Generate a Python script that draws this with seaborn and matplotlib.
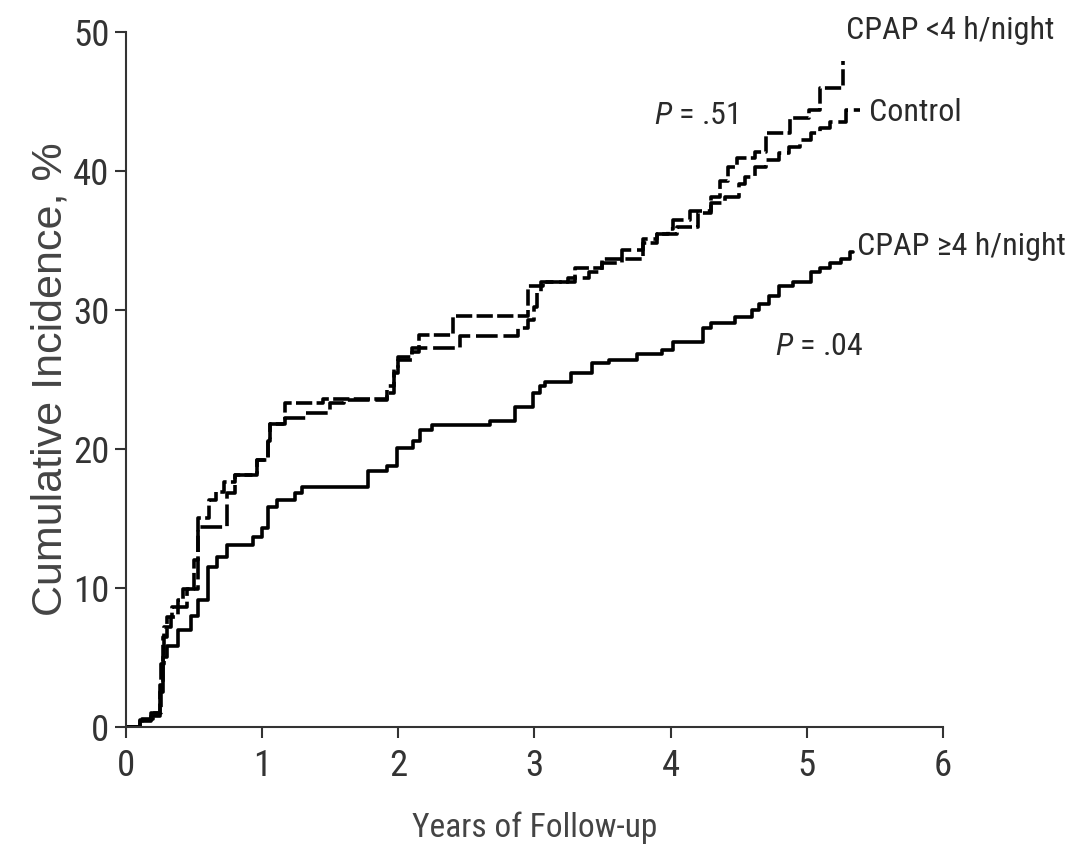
import matplotlib
matplotlib.use('agg')
import numpy as np
import pandas as pd
import matplotlib.pyplot as plt
from matplotlib import font_manager
import seaborn as sns

# step points (years, cumulative incidence %)
t_high = [0, 0.10, 0.18, 0.25, 0.27, 0.30, 0.38, 0.48, 0.53, 0.60,
          0.67, 0.74, 0.93, 1.00, 1.04, 1.11, 1.24, 1.29, 1.78, 1.92,
          1.99, 2.11, 2.16, 2.25, 2.67, 2.86, 2.99, 3.04, 3.08, 3.27,
          3.42, 3.55, 3.75, 3.94, 4.02, 4.24, 4.30, 4.47, 4.60, 4.65,
          4.72, 4.80, 4.90, 5.03, 5.10, 5.17, 5.25, 5.32, 5.34]
y_high = [0, 0.4, 0.8, 2.5, 5.0, 5.8, 7.0, 8.0, 9.1, 11.5,
          12.2, 13.1, 13.7, 14.3, 15.8, 16.3, 16.8, 17.3, 18.4, 18.8,
          20.1, 20.6, 21.4, 21.7, 22.0, 23.0, 24.0, 24.5, 24.8, 25.5,
          26.2, 26.4, 26.8, 27.1, 27.7, 28.7, 29.1, 29.5, 30.0, 30.4,
          31.0, 31.7, 32.0, 32.7, 33.0, 33.4, 33.7, 34.2, 34.2]

t_low = [0, 0.12, 0.20, 0.25, 0.27, 0.30, 0.34, 0.38, 0.42, 0.50,
         0.53, 0.61, 0.66, 0.72, 0.80, 0.96, 1.04, 1.06, 1.17, 1.45,
         1.92, 1.97, 2.00, 2.10, 2.15, 2.40, 2.95, 3.06, 3.30, 3.50,
         3.80, 3.90, 4.05, 4.20, 4.30, 4.36, 4.42, 4.49, 4.62, 4.70,
         4.88, 5.02, 5.10, 5.27]
y_low = [0, 0.6, 1.0, 3.0, 6.5, 7.9, 8.6, 9.1, 9.9, 12.0,
         15.0, 16.3, 16.9, 17.6, 18.1, 19.2, 20.6, 21.8, 23.3, 23.6,
         24.0, 25.5, 26.6, 27.0, 28.2, 29.6, 31.7, 32.0, 33.0, 33.7,
         34.8, 35.5, 36.0, 37.0, 38.1, 39.3, 40.3, 40.9, 41.4, 42.7,
         43.8, 44.4, 46.0, 47.9]

t_ctrl = [0, 0.10, 0.18, 0.26, 0.28, 0.33, 0.38, 0.45, 0.53, 0.74,
          0.80, 0.96, 1.04, 1.06, 1.17, 1.32, 1.50, 1.60, 1.92, 1.97,
          2.00, 2.10, 2.45, 2.88, 2.95, 3.00, 3.02, 3.05, 3.25, 3.40,
          3.50, 3.64, 3.80, 3.90, 3.98, 4.02, 4.14, 4.30, 4.40, 4.50,
          4.55, 4.62, 4.70, 4.80, 4.87, 4.95, 5.03, 5.10, 5.17, 5.29,
          5.39]
y_ctrl = [0, 0.5, 1.0, 4.5, 7.2, 7.9, 8.6, 9.9, 14.4, 16.8,
          18.1, 19.2, 20.6, 21.8, 22.2, 22.6, 23.3, 23.5, 24.5, 25.8,
          26.4, 27.3, 28.1, 28.7, 29.3, 30.2, 31.2, 32.0, 32.3, 32.7,
          33.4, 34.3, 35.1, 35.5, 35.8, 36.5, 37.1, 37.7, 38.1, 39.1,
          39.6, 40.3, 40.8, 41.3, 41.7, 42.2, 42.7, 43.1, 43.5, 44.4,
          44.4]

groups = ['CPAP \u22654 h/night', 'CPAP <4 h/night', 'Control']
p_texts = ['.51', '.04']

df = pd.concat([
    pd.DataFrame({'years': t_high, 'inc': y_high, 'group': groups[0]}),
    pd.DataFrame({'years': t_low, 'inc': y_low, 'group': groups[1]}),
    pd.DataFrame({'years': t_ctrl, 'inc': y_ctrl, 'group': groups[2]}),
])

# condensed face if the box has one, else Arial-metric Liberation Sans
names = {f.name for f in font_manager.fontManager.ttflist}
if 'Roboto Condensed' in names:
    face, k = 'Roboto Condensed', 1.15
else:
    face, k = 'Liberation Sans', 1.0

sns.set_style('ticks')
plt.rcParams['font.family'] = [face, 'DejaVu Sans']
plt.rcParams['mathtext.fontset'] = 'custom'
plt.rcParams['mathtext.it'] = face + ':italic'
plt.rcParams['mathtext.rm'] = face

fig = plt.figure(figsize=(10.79, 8.58), dpi=100)
ax = fig.add_axes([0.1168, 0.1527, 0.757, 0.81])

sns.lineplot(data=df, x='years', y='inc', hue='group', style='group',
             palette={g: 'black' for g in groups},
             dashes={groups[0]: '', groups[1]: (4.5, 1.2), groups[2]: (6, 1.6)},
             estimator=None, sort=False, drawstyle='steps-post',
             linewidth=2.6, legend=False, ax=ax)

ax.set_xlim(0, 6)
ax.set_ylim(0, 50)
ax.set_xticks(range(0, 7))
ax.set_yticks(range(0, 51, 10))
sns.despine(ax=ax)
for s in ['left', 'bottom']:
    ax.spines[s].set_linewidth(1.5)
    ax.spines[s].set_color('#333333')
ax.tick_params(axis='both', length=8, width=1.5, color='#333333',
               labelsize=23 * k, labelcolor='#333333', pad=4)
ax.tick_params(axis='x', pad=7)

ax.set_xlabel('Years of Follow-up', fontsize=21 * k, color='#444444', labelpad=20)
ax.set_ylabel('Cumulative Incidence, %', fontsize=31, color='#444444',
              family=['Liberation Sans', 'DejaVu Sans'], labelpad=2)

tc = '#2a2a2a'
fs = 20 * k
ax.text(5.29, 50.1, groups[1], fontsize=fs, color=tc, ha='left', va='center', clip_on=False)
ax.text(5.46, 44.2, groups[2], fontsize=fs, color=tc, ha='left', va='center', clip_on=False)
ax.text(5.37, 34.6, groups[0], fontsize=fs, color=tc, ha='left', va='center', clip_on=False)
ax.text(3.88, 44.0, r'$P$ = ' + p_texts[0], fontsize=fs, color=tc, ha='left', va='center')
ax.text(4.77, 27.4, r'$P$ = ' + p_texts[1], fontsize=fs, color=tc, ha='left', va='center')

fig.savefig('out.png', dpi=100)
